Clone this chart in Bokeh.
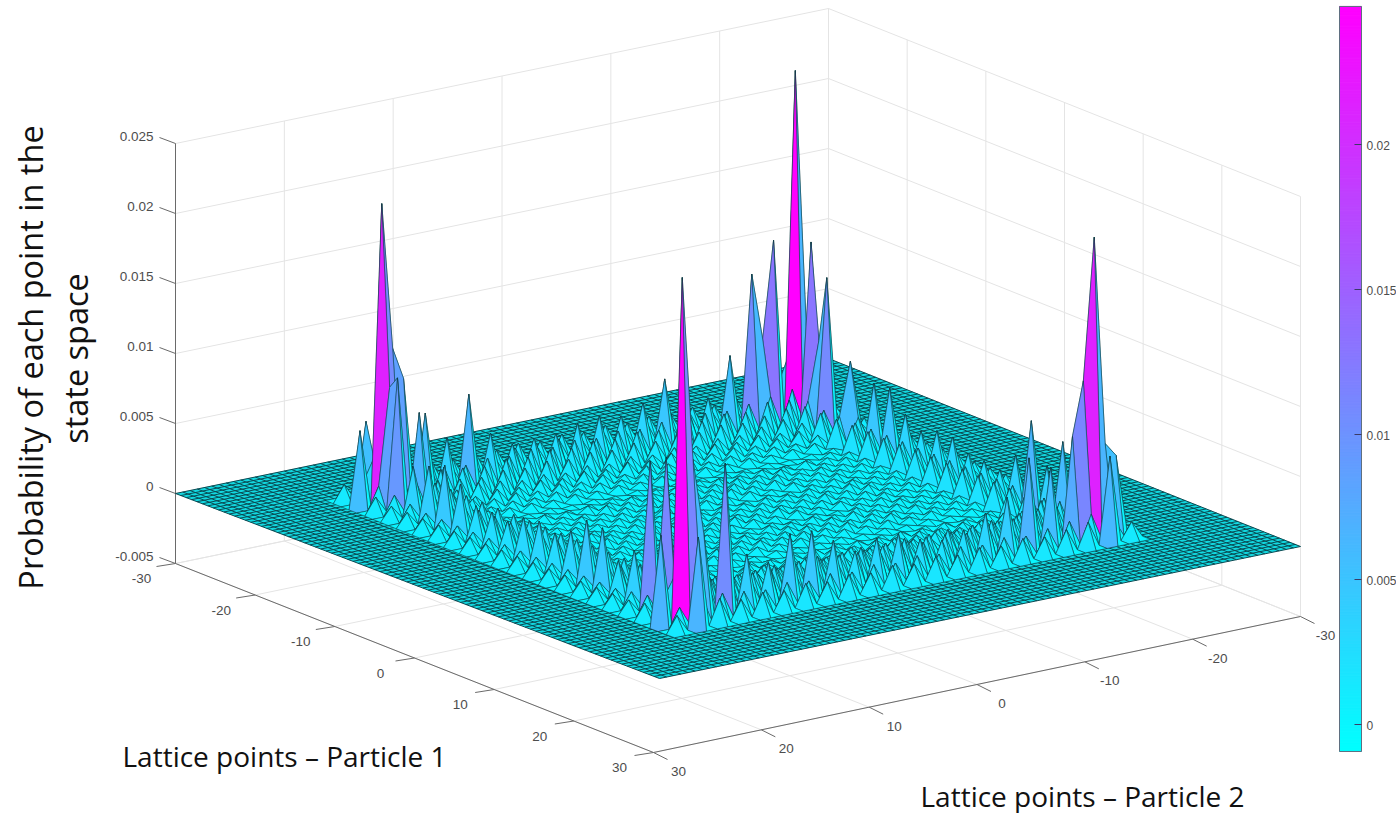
from bokeh.plotting import figure
from bokeh.models import Range1d
from bokeh.core.properties import value
from bokeh.embed import file_html
from bokeh.resources import INLINE
import math

# ---------- data ----------
axis_ticks = [-30, -20, -10, 0, 10, 20, 30]
z_ticks = [-0.005, 0, 0.005, 0.01, 0.015, 0.02, 0.025]
z_tick_labels = ["-0.005", "0", "0.005", "0.01", "0.015", "0.02", "0.025"]
cbar_ticks = [0, 0.005, 0.01, 0.015, 0.02]
cbar_labels = ["0", "0.005", "0.01", "0.015", "0.02"]
c_min, c_max = -0.00093, 0.02476

# tall spikes: lattice position and height
spike_x = [-19,-19,19,19,
  -20,-19,-18,-17,-21,-19,-19,-17,-19,-19,
  -15,-13,-11,-9,-7,-5,-3,-1,1,3,5,7,9,11,13,15,17,18,
  19,19,19,19,19,19,19,19,19,19,19,19,19,19,19,19,19,19,19,19,21,
  18,19,17,19,15,13,11,9,7,5,3,1,-1,-3,-5,-7,-9,-12,21,19,
  -20,-19,-17,-15,-16,-19,-19,-19,-19,-19,-19,-19,-19,-19,-19,-19,-19,-19,-19,-19,-19]
spike_y = [19,-19,-19,19,
  19,18,19,19,19,21,17,17,15,13,
  19,19,19,19,19,19,19,19,19,19,19,19,19,19,19,19,19,19,
  18,17,15,13,11,9,7,5,3,1,-1,-3,-5,-7,-9,-11,-13,-15,-17,21,19,
  -19,-20,-19,-18,-19,-19,-19,-19,-19,-19,-19,-19,-19,-19,-19,-19,-19,-19,-19,-21,
  -19,-20,-19,-19,-19,-17,-15,-16,-13,-11,-9,-7,-5,-3,-1,1,3,5,7,9,11]
spike_z = [.0214,.0248,.0214,.0246,
  .0030,.0109,.0085,.0094,.0054,.0055,.0086,.0066,.0058,.0037,
  .0035,.0040,.0045,.0036,.0025,.0025,.0023,.0030,.0032,.0028,.0034,.0046,.0045,.0026,.0038,.0106,.0113,.0030,
  .0114,.0060,.0107,.0039,.0030,.0047,.0046,.0036,.0025,.0031,.0031,.0024,.0020,.0024,.0033,.0041,.0066,.0056,.0075,.0065,.0065,
  .0031,.0065,.0084,.0113,.0059,.0037,.0065,.0036,.0021,.0023,.0024,.0031,.0031,.0026,.0034,.0048,.0047,.0056,.0062,.0055,
  .0040,.0065,.0130,.0109,.0062,.0130,.0109,.0061,.0054,.0027,.0025,.0047,.0033,.0027,.0030,.0028,.0024,.0024,.0023,.0034,.0065]

# low bumps, unit 0.0001 (base-36 digits).  Odd lattice: x = -21..21 by row, y = -21..21 by column
odd_rows = [
 "ceigegegegegegegegeiec",
 "coigegegegegegegegigoc",
 "cokmikikikikikikikmkoc",
 "aik" + "ec9a8a8a8a8a9cec" + "kia",
 "aik" + "a86878685868687a" + "kia",
 "aik" + "6545454545454556" + "kia",
 "aik" + "4212323232321224" + "kia",
 "aik" + "5436565656563435" + "kia",
 "aik" + "5454656545454545" + "kia",
 "aik" + "4354232323454354" + "kia",
 "aik" + "5464545456454545" + "kia",
 "aik" + "5454546565454545" + "kia",
 "aik" + "4354232323454354" + "kia",
 "aik" + "5454654545454545" + "kia",
 "aik" + "5436565656563435" + "kia",
 "aik" + "4232323223232234" + "kia",
 "aik" + "5454545465454545" + "kia",
 "aik" + "a86878685868687a" + "kia",
 "aik" + "ec9a8a8a8a8a9cec" + "kia",
 "cokmikikikikikikikmkoc",
 "coigegegegegegegegigoc",
 "ceigegegegegegegegeiec",
]
# even lattice: x = -20..20 by row, y = -20..20 by column
even_rows = [
 "ekigegegegegegegegike",
 "gomkikikikikikikikmog",
 "ekigegegegegegegegike",
 "ci" + "c8a8a8a8a8a8a8a8c" + "ic",
 "ai" + "85656565656565658" + "ia",
 "ai" + "32121212121212123" + "ia",
 "ai" + "54545454545454545" + "ia",
 "ai" + "54546565454545454" + "ia",
 "ai" + "44545354535454544" + "ia",
 "ai" + "54545454545454545" + "ia",
 "ai" + "54656545454565654" + "ia",
 "ai" + "54545454545454545" + "ia",
 "ai" + "44545354535454544" + "ia",
 "ai" + "54545456545454545" + "ia",
 "ai" + "54545454545454545" + "ia",
 "ai" + "32121212121212123" + "ia",
 "ai" + "85656565656565658" + "ia",
 "ci" + "c8a8a8a8a8a8a8a8c" + "ic",
 "ekigegegegegegegegike",
 "gomkikikikikikikikmog",
 "ekigegegegegegegegike",
]
bump_unit = 0.0001

# ---------- page geometry ----------
W, H = 1396, 813
K = 14000.0
L0, B0, R0, F0 = (175.0, 493.0), (828.0, 358.0), (1300.0, 546.0), (659.0, 678.0)
FL, FB, FR, FF = (175.0, 563.0), (828.0, 428.0), (1300.0, 616.0), (653.0, 752.0)

def srf(x, y, z):
    a, b = (x + 30) / 60.0, (y + 30) / 60.0
    bend = (a * b) ** 5
    px = B0[0] + a * (R0[0] - B0[0]) + b * (L0[0] - B0[0]) + 12 * bend
    py = B0[1] + a * (R0[1] - B0[1]) + b * (L0[1] - B0[1]) - 3 * bend
    return px, py - K * z

def blin(x, y, cb, cr, cl, cf):
    a, b = (x + 30) / 60.0, (y + 30) / 60.0
    px = (1-a)*(1-b)*cb[0] + a*(1-b)*cr[0] + (1-a)*b*cl[0] + a*b*cf[0]
    py = (1-a)*(1-b)*cb[1] + a*(1-b)*cr[1] + (1-a)*b*cl[1] + a*b*cf[1]
    return px, py

def flr(x, y):
    return blin(x, y, FB, FR, FL, FF)

def corner(x, y):
    return blin(x, y, B0, R0, L0, F0)

def cool(v):
    t = max(0.0, min(1.0, (v - c_min) / (c_max - c_min)))
    return "#%02x%02x%02x" % (int(round(255 * t)), int(round(255 * (1 - t))), 255)

p = figure(width=W, height=H, x_range=Range1d(0, W), y_range=Range1d(H, 0),
           toolbar_location=None, output_backend="svg", min_border=0,
           x_axis_location=None, y_axis_location=None)
p.grid.visible = False
p.outline_line_color = None
p.background_fill_color = "white"

# ---------- grid on floor and walls ----------
GRID = "#e4e4e4"
gx0, gy0, gx1, gy1 = [], [], [], []
def seg(a, b):
    gx0.append(a[0]); gy0.append(a[1]); gx1.append(b[0]); gy1.append(b[1])
span = K * (z_ticks[-1] - z_ticks[0])
for t in axis_ticks:
    seg(flr(t, -30), flr(t, 30))
    seg(flr(-30, t), flr(30, t))
    a = flr(t, -30); seg(a, (a[0], a[1] - span))
    a = flr(-30, t); seg(a, (a[0], a[1] - span))
for z in z_ticks:
    d = K * (z - z_ticks[0])
    seg((FL[0], FL[1] - d), (FB[0], FB[1] - d))
    seg((FB[0], FB[1] - d), (FR[0], FR[1] - d))
p.segment(gx0, gy0, gx1, gy1, line_color=GRID, line_width=1)

# ---------- axes and ticks ----------
ax0, ay0, ax1, ay1 = [], [], [], []
def aseg(a, b):
    ax0.append(a[0]); ay0.append(a[1]); ax1.append(b[0]); ay1.append(b[1])
aseg(FL, FF); aseg(FF, FR); aseg(FL, (FL[0], FL[1] - span))
tx, ty, tt = [], [], []
for t in axis_ticks:
    a = flr(t, 30); aseg(a, (a[0] - 19, a[1] + 3))
    tx.append(a[0] - 34); ty.append(a[1] + 15); tt.append(str(t))
    a = flr(30, t); aseg(a, (a[0] + 14, a[1] + 7))
    tx.append(a[0] + 25); ty.append(a[1] + 19); tt.append(str(t))
zx, zy = [], []
for z in z_ticks:
    y = FL[1] - K * (z - z_ticks[0])
    aseg((FL[0], y), (FL[0] - 16, y - 6))
    zx.append(FL[0] - 22); zy.append(y - 7)
p.segment(ax0, ay0, ax1, ay1, line_color="#6a6a6a", line_width=1)
p.text(tx, ty, text=tt, text_font=value("Liberation Sans"), text_font_size="13.5px",
       text_color="#4d4d4d", text_align="center", text_baseline="middle")
p.text(zx, zy, text=z_tick_labels, text_font=value("Liberation Sans"), text_font_size="13.5px",
       text_color="#4d4d4d", text_align="right", text_baseline="middle")

# ---------- surface ----------
N = 61
Z = [[0.0] * N for _ in range(N)]
for r, row in enumerate(odd_rows):
    for c, ch in enumerate(row):
        Z[-21 + 2 * r + 30][-21 + 2 * c + 30] = int(ch, 36) * bump_unit
for r, row in enumerate(even_rows):
    for c, ch in enumerate(row):
        Z[-20 + 2 * r + 30][-20 + 2 * c + 30] = int(ch, 36) * bump_unit
for a, b, v in zip(spike_x, spike_y, spike_z):
    Z[a + 30][b + 30] = v

# flat border: base sheet, then its fine mesh, drawn before the relief
FLAT = 22
sheet = [corner(-30, -30), corner(30, -30), corner(30, 30), corner(-30, 30)]
p.patch([q[0] for q in sheet], [q[1] for q in sheet], fill_color="#12d8e0", line_color=None)
mesh_step = 2.0 / 3.0
mx0, my0, mx1, my1 = [], [], [], []
for k in range(91):
    t = -30 + k * mesh_step
    pieces = [(-30, 30)] if abs(t) >= FLAT else [(-30, -FLAT), (FLAT, 30)]
    for s0, s1 in pieces:
        a, b = corner(t, s0), corner(t, s1)
        mx0.append(a[0]); my0.append(a[1]); mx1.append(b[0]); my1.append(b[1])
        a, b = corner(s0, t), corner(s1, t)
        mx0.append(a[0]); my0.append(a[1]); mx1.append(b[0]); my1.append(b[1])
p.segment(mx0, my0, mx1, my1, line_color="#0a4a52", line_width=1)

lo, hi = 30 - FLAT, 30 + FLAT
cells = sorted(((i, j) for i in range(lo, hi) for j in range(lo, hi)),
               key=lambda c: (c[0] + c[1], c[0]))
pxs, pys, cols = [], [], []
for i, j in cells:
    corners = [(i, j), (i + 1, j), (i + 1, j + 1), (i, j + 1)]
    pts = [srf(a - 30, b - 30, Z[a][b]) for a, b in corners]
    pxs.append([q[0] for q in pts]); pys.append([q[1] for q in pts])
    cols.append(cool(Z[i][j]))
p.patches(pxs, pys, fill_color=cols, line_color="#0c3a42", line_width=0.55)

# ---------- big labels ----------
LF = value("Open Sans")
p.text([30], [357], text=["Probability of each point in the"], angle=math.pi / 2, text_font=LF,
       text_font_size="32.5px", text_color="#111111", text_align="center", text_baseline="middle")
p.text([75], [358], text=["state space"], angle=math.pi / 2, text_font=LF,
       text_font_size="32.5px", text_color="#111111", text_align="center", text_baseline="middle")
p.text([122], [755], text=["Lattice points \u2013 Particle 1"], text_font=LF,
       text_font_size="28px", text_color="#111111", text_align="left", text_baseline="middle")
p.text([920], [795], text=["Lattice points \u2013 Particle 2"], text_font=LF,
       text_font_size="28px", text_color="#111111", text_align="left", text_baseline="middle")

# ---------- colour bar ----------
CB0, CB1 = 1339, 1361
def cby(v):
    return 724 - v * 145 / 0.005
n = 256
lv = [c_min + (c_max - c_min) * k / n for k in range(n + 1)]
cb_cols = [cool((lv[k] + lv[k + 1]) / 2) for k in range(n)]
p.quad(left=[CB0] * n, right=[CB1] * n, bottom=[cby(v) for v in lv[:-1]], top=[cby(v) for v in lv[1:]],
       fill_color=cb_cols, line_color=cb_cols, line_width=1)
p.quad(left=[CB0], right=[CB1], bottom=[cby(c_min)], top=[cby(c_max)], fill_color=None,
       line_color="#5f6f80", line_width=1)
p.segment([CB1 - 7] * len(cbar_ticks), [cby(v) for v in cbar_ticks], [CB1] * len(cbar_ticks),
          [cby(v) for v in cbar_ticks], line_color="#3a3a66", line_width=1)
p.text([1366] * len(cbar_ticks), [cby(v) + 1 for v in cbar_ticks], text=cbar_labels,
       text_font=value("Liberation Sans"), text_font_size="12px", text_color="#4d4d4d",
       text_align="left", text_baseline="middle")

open("out.html", "w").write(file_html(p, INLINE))
